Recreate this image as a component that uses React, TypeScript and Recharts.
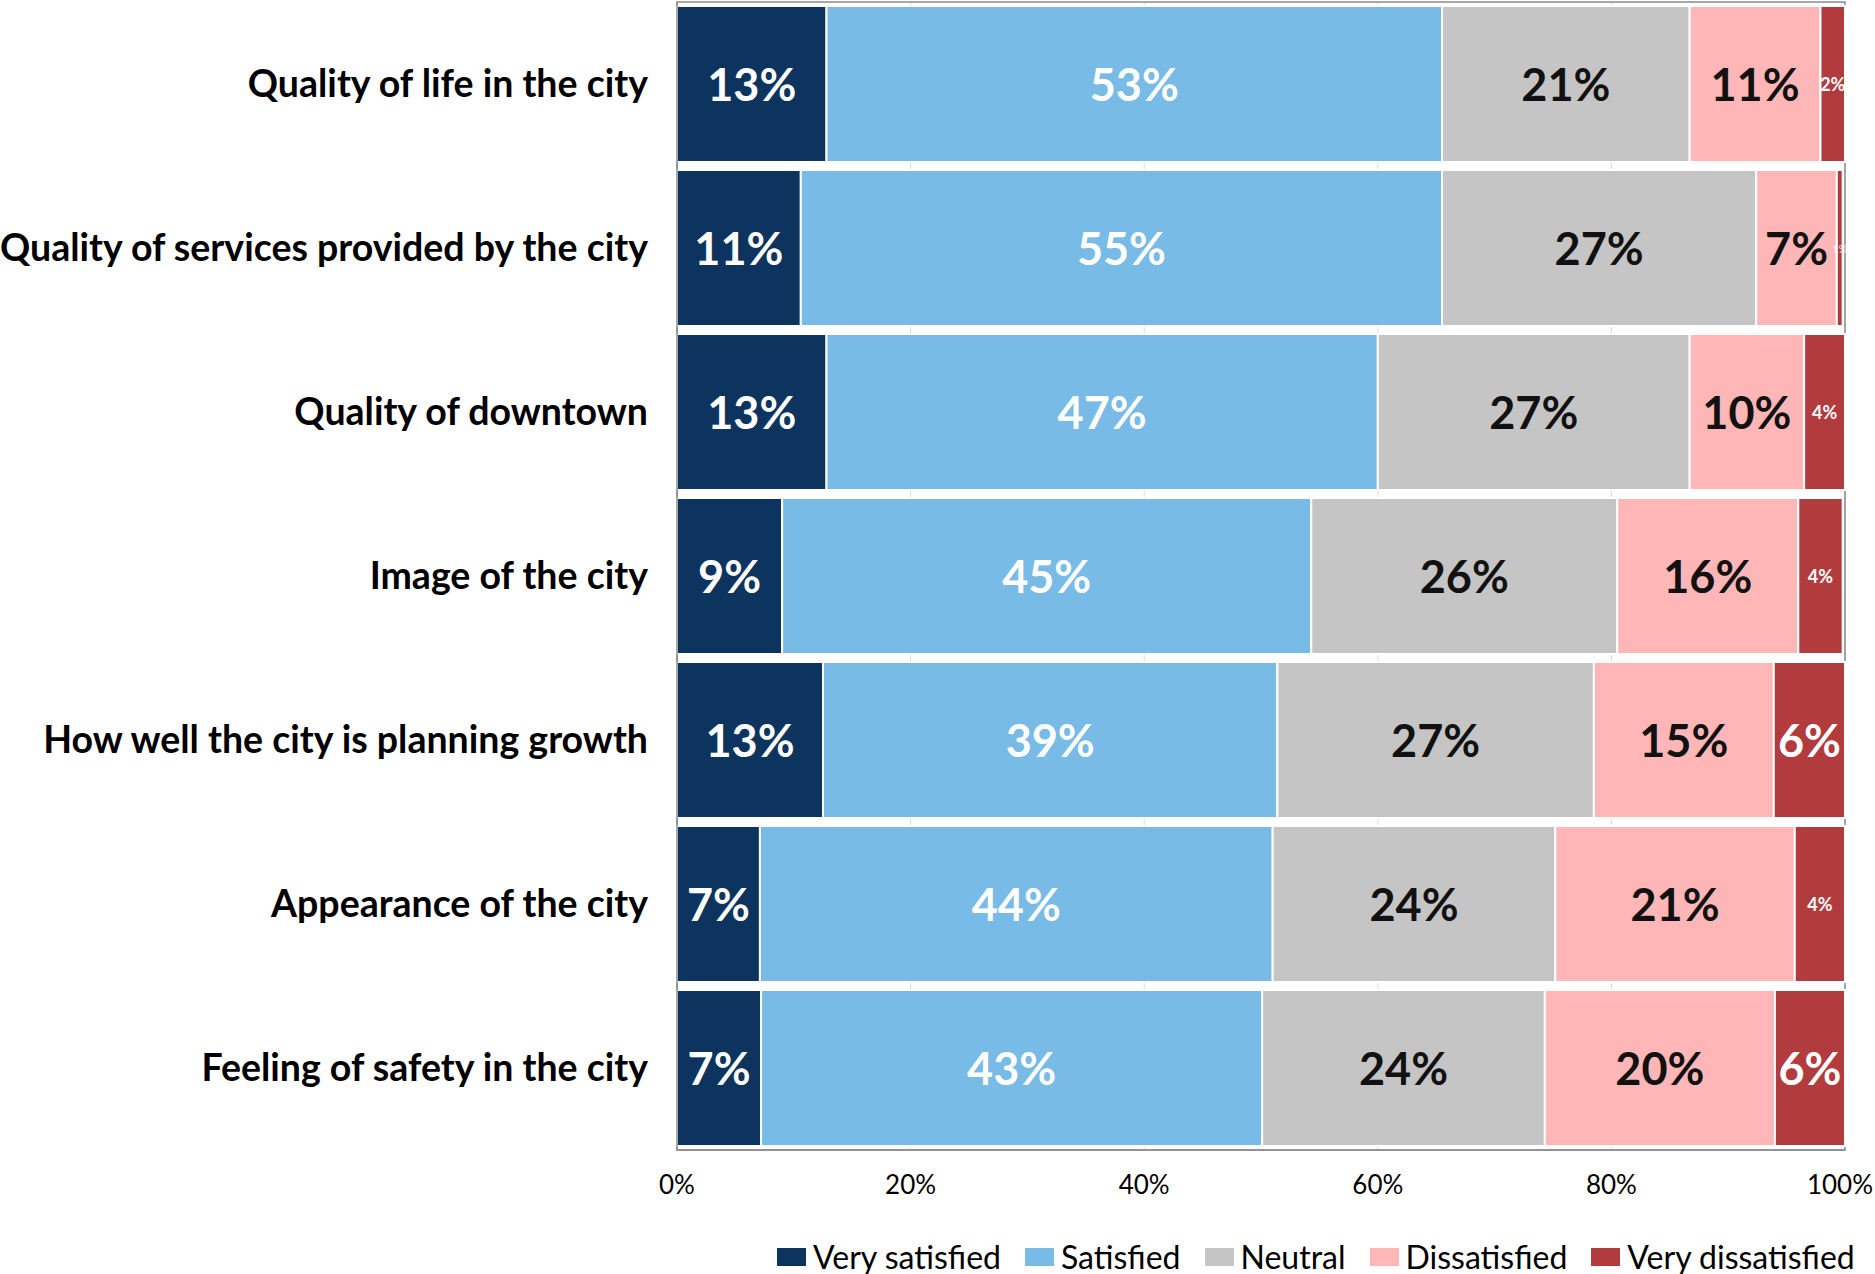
import React from "react";
import {
  BarChart,
  Bar,
  XAxis,
  YAxis,
  CartesianGrid,
  Legend,
  LabelList,
  ReferenceArea,
} from "recharts";

const categories = [
  "Quality of life in the city",
  "Quality of services provided by the city",
  "Quality of downtown",
  "Image of the city",
  "How well the city is planning growth",
  "Appearance of the city",
  "Feeling of safety in the city",
];

const verySatisfied = [12.8, 10.6, 12.8, 9.0, 12.5, 7.1, 7.2];
const satisfied = [52.7, 54.9, 47.2, 45.3, 38.9, 43.9, 42.9];
const neutral = [21.2, 26.9, 26.7, 26.2, 27.1, 24.2, 24.2];
const dissatisfied = [11.2, 6.9, 9.8, 15.5, 15.4, 20.5, 19.7];
const veryDissatisfied = [2.1, 0.5, 3.5, 3.8, 6.1, 4.3, 6.0];

const xTicks = [0, 20, 40, 60, 80, 100];

const series = [
  { key: "vs", name: "Very satisfied", color: "#0d345e", text: "#ffffff" },
  { key: "s", name: "Satisfied", color: "#78bbe6", text: "#ffffff" },
  { key: "n", name: "Neutral", color: "#c5c5c5", text: "#111111" },
  { key: "d", name: "Dissatisfied", color: "#ffb6b6", text: "#111111" },
  { key: "vd", name: "Very dissatisfied", color: "#b23b3d", text: "#ffffff" },
];

const data = categories.map((name, i) => ({
  name,
  vs: verySatisfied[i],
  s: satisfied[i],
  n: neutral[i],
  d: dissatisfied[i],
  vd: veryDissatisfied[i],
}));

const FONT = "Lato, 'Open Sans', sans-serif";

// value label inside each segment, small ones get a small font
const makeLabel = (color: string) => (props: any) => {
  const { x, y, width, height, value } = props;
  const v = Number(value);
  const size = v < 1 ? 11 : v < 5 ? 18 : 45;
  return (
    <text
      x={Number(x) + Number(width) / 2}
      y={Number(y) + Number(height) / 2}
      fill={color}
      fillOpacity={v < 1 ? 0.7 : 1}
      fontSize={size}
      fontWeight={700}
      fontFamily={FONT}
      textAnchor="middle"
      dominantBaseline="central"
    >
      {Math.round(v)}%
    </text>
  );
};

// x tick, the last one is kept inside the page
const XTick = (props: any) => {
  const { x, y, payload, index } = props;
  const last = index === xTicks.length - 1;
  return (
    <text
      x={last ? x + 28 : x}
      y={y}
      dy="0.71em"
      textAnchor={last ? "end" : "middle"}
      fill="#000"
      fontSize={26}
      fontFamily={FONT}
    >
      {`${payload.value}%`}
    </text>
  );
};

const LegendContent = () => (
  <div
    style={{
      display: "flex",
      alignItems: "center",
      gap: 24,
      fontFamily: FONT,
      fontSize: 32,
      color: "#000",
      whiteSpace: "nowrap",
    }}
  >
    {series.map((s) => (
      <div key={s.key} style={{ display: "flex", alignItems: "center" }}>
        <span
          style={{
            display: "inline-block",
            width: 29,
            height: 18,
            background: s.color,
            marginRight: 7,
          }}
        />
        <span>{s.name}</span>
      </div>
    ))}
  </div>
);

export default function App() {
  return (
    <div style={{ position: "absolute", left: 0, top: 0, background: "#fff" }}>
      <BarChart
        width={1875}
        height={1274}
        data={data}
        layout="vertical"
        margin={{ top: 2, right: 30, bottom: 64, left: 0 }}
        barCategoryGap={4}
      >
        <CartesianGrid horizontal={false} stroke="#d9d9d9" />
        <XAxis
          type="number"
          domain={[0, 100]}
          ticks={xTicks}
          height={60}
          axisLine={{ stroke: "#8c8c8c", strokeWidth: 1.5 }}
          tickLine={false}
          tickSize={0}
          tickMargin={26}
          tick={<XTick />}
        />
        <YAxis
          type="category"
          dataKey="name"
          width={677}
          axisLine={{ stroke: "#8c8c8c", strokeWidth: 1.5 }}
          tickLine={false}
          tickSize={0}
          tickMargin={29}
          tick={{ fill: "#000", fontSize: 37.5, fontWeight: 700, fontFamily: FONT }}
        />
        {series.map((s) => (
          <Bar
            key={s.key}
            dataKey={s.key}
            name={s.name}
            stackId="a"
            fill={s.color}
            stroke="#ffffff"
            strokeWidth={2}
            isAnimationActive={false}
          >
            <LabelList dataKey={s.key} content={makeLabel(s.text)} />
          </Bar>
        ))}
        <ReferenceArea
          x1={0}
          x2={100}
          fill="none"
          stroke="#8c8c8c"
          strokeWidth={1.5}
          ifOverflow="visible"
        />
        <Legend
          layout="horizontal"
          verticalAlign="middle"
          align="center"
          content={<LegendContent />}
          wrapperStyle={{ top: 1237, left: 777, width: 1098, height: 38 }}
        />
      </BarChart>
    </div>
  );
}
